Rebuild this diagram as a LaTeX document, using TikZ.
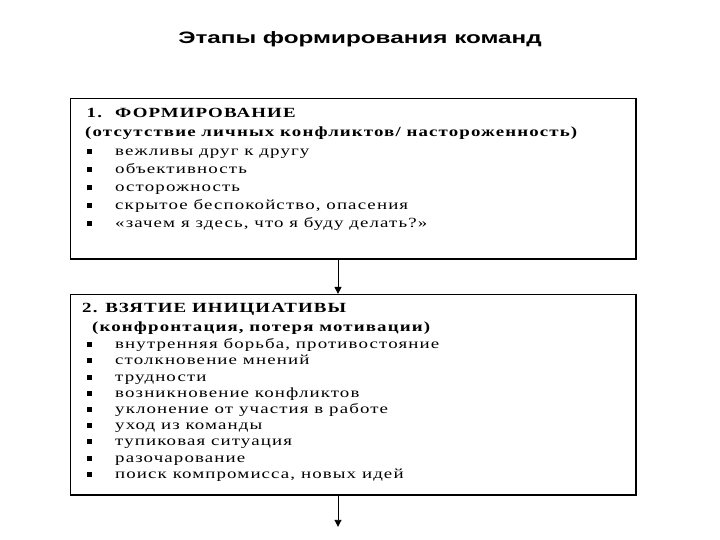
\documentclass[tikz,border=0pt]{standalone}
\usepackage{fontspec}
\setmainfont{Liberation Serif}
\newfontfamily\titlefont[FakeStretch=1.47]{Liberation Sans}
\newfontfamily\stagefont[FakeStretch=1.35,LetterSpace=8]{Liberation Serif}
\usetikzlibrary{arrows.meta, positioning, calc}

\newcommand{\stageitem}[1]{\makebox[33pt][l]{\hspace*{5pt}\rule[1.5pt]{5pt}{5pt}}#1}

\begin{document}
\begin{tikzpicture}[x=1pt, y=1pt,
        stage/.style={draw=black, line width=0.9pt, minimum width=565pt, inner sep=0pt},
        stagetext/.style={anchor=north west, align=left, inner sep=0pt},
        shade/.style={line width=2.2pt},
        arrow/.style={-{Triangle[length=7pt, width=7pt]}, line width=0.9pt}
    ]
        \useasboundingbox (0,0) rectangle (720,-540);

        \node[font=\titlefont\bfseries\fontsize{16.5}{20}\selectfont, anchor=base] (title) at (360,-44) {Этапы формирования команд};

        % stage 1
        \node[stage, minimum height=160pt, anchor=north west] (stage1) at (70,-98) {};
        \draw[shade] (stage1.north east) |- (stage1.south west);
        \node[stagetext, font=\stagefont\fontsize{14}{18}\selectfont] (items1) at ([shift={(12,-10)}]stage1.north west) {%
            \textbf{\hspace*{4.5pt}\makebox[28.5pt][l]{1.}ФОРМИРОВАНИЕ}\\[1pt]
            \textbf{\hspace*{3pt}(отсутствие личных конфликтов/ настороженность)}\\[1.5pt]
            \stageitem{вежливы друг к другу}\\
            \stageitem{объективность}\\
            \stageitem{осторожность}\\
            \stageitem{скрытое беспокойство, опасения}\\
            \stageitem{«зачем я здесь, что я буду делать?»}};

        % stage 2
        \node[stage, minimum height=200pt, below=35pt of stage1] (stage2) {};
        \draw[shade] (stage2.north east) |- (stage2.south west);
        \node[stagetext, font=\stagefont\fontsize{14}{16.2}\selectfont] (items2) at ([shift={(12,-9.5)}]stage2.north west) {%
            \textbf{2. ВЗЯТИЕ ИНИЦИАТИВЫ}\\[2pt]
            \textbf{\hspace*{10pt}(конфронтация, потеря мотивации)}\\[1.5pt]
            \stageitem{внутренняя борьба, противостояние}\\
            \stageitem{столкновение мнений}\\
            \stageitem{трудности}\\
            \stageitem{возникновение конфликтов}\\
            \stageitem{уклонение от участия в работе}\\
            \stageitem{уход из команды}\\
            \stageitem{тупиковая ситуация}\\
            \stageitem{разочарование}\\
            \stageitem{поиск компромисса, новых идей}};

        \coordinate (next) at ([xshift=268pt, yshift=-32pt]stage2.south west);

        \draw[arrow] ([xshift=268pt]stage1.south west) -- ([xshift=268pt]stage2.north west);
        \draw[arrow] ([xshift=268pt]stage2.south west) -- (next);
    \end{tikzpicture}
\end{document}
